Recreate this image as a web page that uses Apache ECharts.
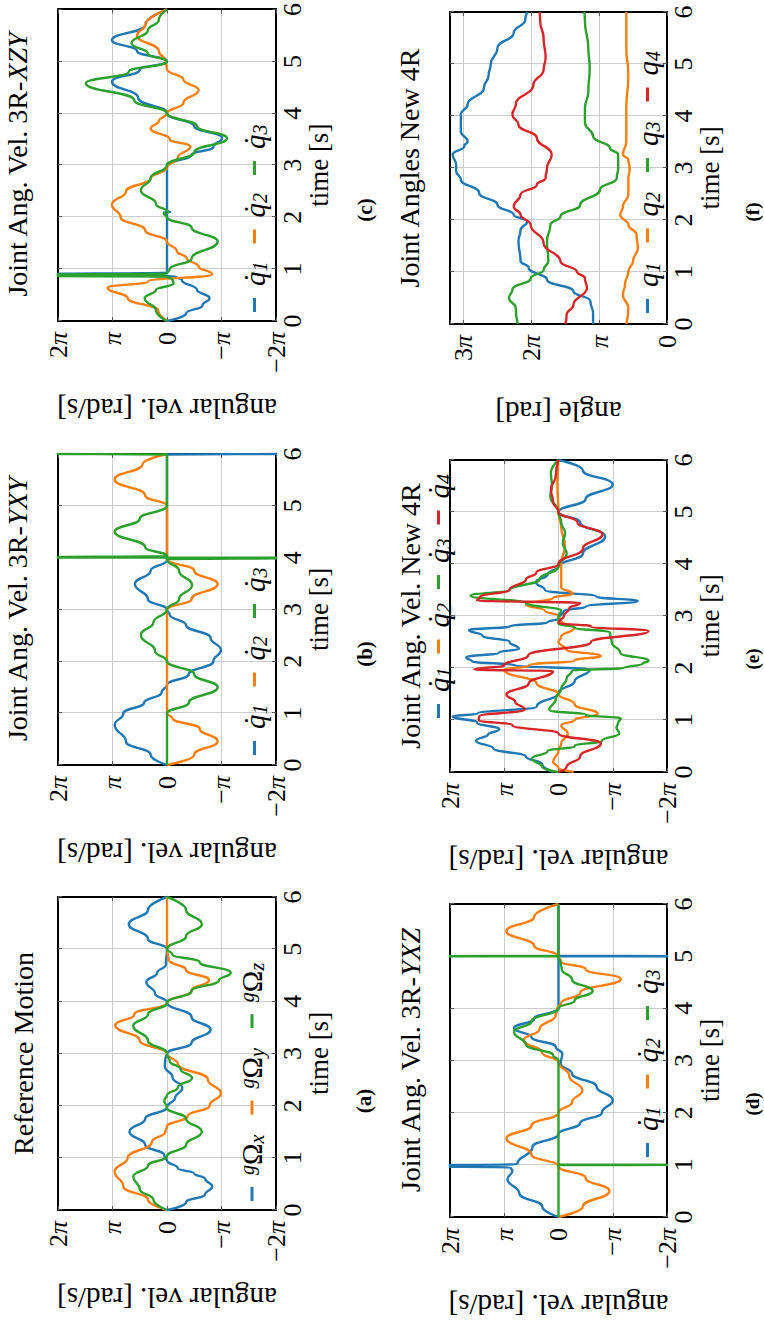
<!DOCTYPE html>
<html><head><meta charset="utf-8">
<script src="https://cdn.jsdelivr.net/npm/echarts@6/dist/echarts.min.js"></script>
<style>
html,body{margin:0;padding:0;background:#fff;overflow:hidden;width:764px;height:1322px;}
#wrap{position:absolute;left:0;top:0;width:1322px;height:764px;transform-origin:0 0;transform:translate(0,1322px) rotate(-90deg);}
#chart{width:1322px;height:764px;background:#fff;}
</style></head><body><div id="wrap"><div id="chart"></div></div>
<script>
// ---------------- data: [time s, value in units of pi] ----------------
// (a) Reference Motion
const a_Wx = [[0,0],[0.15,-0.35],[0.3,-0.7],[0.45,-0.83],[0.6,-0.7],[0.7,-0.5],[0.8,-0.2],[0.95,0],[1.05,0.05],[1.25,0.4],[1.5,0.69],[1.75,0.4],[1.97,0],[2.15,-0.15],[2.34,-0.28],[2.55,-0.1],[2.75,0.04],[2.9,0.03],[3.0,0],[3.2,-0.45],[3.46,-0.8],[3.7,-0.45],[3.98,0],[4.15,0.22],[4.37,0.38],[4.55,0.18],[4.7,0.02],[5.0,0],[5.2,0.35],[5.48,0.7],[5.75,0.35],[6,0]];
const a_Wy = [[0,0],[0.2,0.35],[0.45,0.8],[0.74,0.96],[1.0,0.72],[1.3,0.28],[1.5,0.03],[1.6,0],[1.8,-0.38],[2.0,-0.78],[2.24,-0.99],[2.5,-0.75],[2.8,-0.2],[3.0,0],[3.25,0.5],[3.54,0.95],[3.75,0.6],[3.97,0],[4.2,-0.45],[4.41,-0.77],[4.6,-0.35],[4.8,-0.03],[5.0,0],[6,0]];
const a_Wz = [[0,0],[0.2,0.25],[0.4,0.5],[0.64,0.62],[0.85,0.35],[1.03,0],[1.25,-0.35],[1.5,-0.64],[1.75,-0.35],[1.96,0],[2.1,0.05],[2.2,0],[2.35,-0.2],[2.53,-0.46],[2.7,-0.25],[2.85,-0.05],[3.0,0],[3.25,0.35],[3.53,0.62],[3.75,0.35],[3.97,0],[4.2,-0.45],[4.4,-0.95],[4.55,-1.17],[4.75,-0.6],[4.9,-0.1],[5.0,0],[5.25,-0.35],[5.48,-0.64],[5.75,-0.35],[6,0]];
// (b) 3R-YXY
const b_dq1 = [[0,0],[0.2,0.3],[0.45,0.75],[0.77,0.96],[1.0,0.8],[1.2,0.42],[1.4,0.1],[1.55,0],[1.75,-0.4],[2.0,-0.85],[2.22,-0.99],[2.45,-0.8],[2.7,-0.35],[2.9,-0.05],[3.0,0],[3.2,0.35],[3.49,0.59],[3.75,0.3],[3.95,0],[5.99,0],[6.0,-2.6]];
const b_dq2 = [[0,0],[0.2,-0.5],[0.46,-0.93],[0.7,-0.6],[0.9,-0.1],[1.0,0],[3.0,0],[3.2,-0.45],[3.49,-0.93],[3.75,-0.5],[3.97,0],[5.0,0],[5.2,0.4],[5.51,0.96],[5.8,0.45],[6,0]];
const b_dq3 = [[0,0],[1.0,0],[1.2,-0.4],[1.5,-0.93],[1.75,-0.5],[2.0,0],[2.2,0.22],[2.51,0.48],[2.75,0.25],[3.0,0],[3.2,-0.22],[3.47,-0.46],[3.75,-0.22],[3.97,0],[3.995,-2.6],[4.005,2.6],[4.03,0],[4.2,0.4],[4.5,0.96],[4.75,0.5],[5.0,0],[5.99,0],[6.0,2.6]];
// (c) 3R-XZY
const c_dq1 = [[0,0],[0.15,-0.35],[0.3,-0.65],[0.44,-0.78],[0.6,-0.55],[0.79,-0.27],[0.86,-0.15],[0.88,2.6],[0.9,2.6],[0.93,0],[2.08,0],[2.09,0.06],[2.1,-0.06],[2.11,0],[3.0,0],[3.2,-0.45],[3.35,-0.85],[3.53,-1.01],[3.75,-0.5],[4.0,0],[4.3,0.53],[4.61,1.01],[4.84,0.5],[5.0,0],[5.2,0.55],[5.41,1.01],[5.7,0.4],[6,0]];
const c_dq2 = [[0,0],[0.2,0.16],[0.44,0.72],[0.64,1.09],[0.76,0.35],[0.9,-0.83],[1.05,-0.58],[1.21,-0.36],[1.35,-0.18],[1.53,0],[1.75,0.4],[2.0,0.85],[2.24,1.01],[2.5,0.75],[2.75,0.3],[2.95,0],[3.15,-0.2],[3.36,-0.43],[3.5,-0.05],[3.71,0.3],[3.85,0.15],[4.0,0],[4.2,-0.3],[4.45,-0.58],[4.65,-0.3],[4.85,0],[5.0,0.02],[5.2,0.15],[5.5,0.55],[5.7,0.4],[6,0]];
const c_dq3 = [[0,0],[0.2,0.2],[0.44,0.41],[0.6,0.2],[0.72,-0.12],[0.8,-0.1],[0.855,0],[0.87,2.6],[0.89,2.6],[0.91,0],[1.0,-0.05],[1.2,-0.45],[1.53,-0.93],[1.8,-0.45],[2.0,0],[2.07,0.06],[2.1,-0.02],[2.25,0.2],[2.52,0.48],[2.75,0.3],[3.0,0],[3.25,-0.5],[3.52,-1.1],[3.75,-0.55],[4.0,0],[4.25,0.6],[4.58,1.49],[4.8,0.7],[5.0,0],[5.15,0.35],[5.35,0.65],[5.6,0.35],[5.8,0.15],[6,0]];
// (d) 3R-YXZ
const d_dq1 = [[0,0],[0.2,0.3],[0.45,0.72],[0.73,0.94],[0.88,0.85],[0.95,0.88],[0.97,2.6],[0.99,2.6],[1.01,0.76],[1.34,0.48],[1.59,0],[1.8,-0.4],[2.0,-0.8],[2.24,-1.0],[2.5,-0.7],[2.75,-0.25],[2.94,-0.04],[3.13,-0.07],[3.26,0.05],[3.45,0.5],[3.62,0.82],[3.8,0.45],[4.0,0],[4.995,0],[5.0,-2.6],[5.005,0],[6,0]];
const d_dq2 = [[0,0],[0.2,-0.45],[0.5,-0.94],[0.75,-0.5],[0.97,0],[1.2,0.5],[1.51,0.96],[1.75,0.5],[2.0,0],[2.2,-0.25],[2.43,-0.44],[2.7,-0.2],[2.97,0],[3.15,0.3],[3.39,0.64],[3.6,0.35],[3.87,0.05],[4.0,0.02],[4.1,-0.05],[4.3,-0.4],[4.56,-1.15],[4.75,-0.5],[4.9,-0.05],[5.0,0],[5.2,0.45],[5.48,0.96],[5.75,0.45],[6,0]];
const d_dq3 = [[0,0],[0.995,0],[1.0,-2.6],[1.005,0],[3.0,0],[3.1,0.1],[3.3,0.6],[3.55,0.82],[3.75,0.5],[4.0,0],[4.15,-0.3],[4.33,-0.63],[4.55,-0.25],[4.75,-0.06],[4.87,-0.04],[4.995,0],[5.0,2.6],[5.005,0],[6,0]];
// (e) New 4R velocities
const e_dq1 = [[0,0.1],[0.15,0.3],[0.3,0.6],[0.45,1.2],[0.6,1.52],[0.72,1.3],[0.82,1.09],[0.95,1.5],[1.07,1.95],[1.12,1.5],[1.26,0.4],[1.52,0],[1.75,-0.3],[1.97,-0.58],[2.05,0.8],[2.13,1.6],[2.2,1.7],[2.3,1.1],[2.37,0.73],[2.5,0.9],[2.62,1.4],[2.73,1.65],[2.8,0.9],[2.88,0.2],[2.95,0],[3.1,-0.1],[3.18,-0.5],[3.29,-1.46],[3.37,-0.7],[3.5,0.25],[3.65,0.42],[3.8,0.2],[3.95,0],[4.2,-0.45],[4.53,-0.86],[4.8,-0.4],[5.0,0],[5.25,-0.5],[5.53,-1.0],[5.8,-0.45],[6,0]];
const e_dq2 = [[0,-0.28],[0.08,0],[0.2,0.1],[0.4,0.0],[0.55,-0.05],[0.74,-0.17],[0.9,-0.05],[1.0,-0.3],[1.12,-0.72],[1.3,-0.3],[1.5,0.0],[1.7,0.4],[1.96,1.0],[2.05,0.55],[2.15,-0.3],[2.23,-0.78],[2.35,-0.15],[2.5,0.0],[2.6,-0.05],[2.77,-0.29],[2.9,-0.05],[3.0,0],[3.1,0.25],[3.22,0.6],[3.35,0.1],[3.43,-0.26],[3.55,-0.05],[4.0,-0.05],[4.35,-0.12],[4.7,-0.05],[5.0,0.0],[5.5,0.02],[6,0]];
const e_dq3 = [[0,0],[0.1,0.3],[0.26,0.49],[0.4,0.2],[0.5,-0.3],[0.6,-0.8],[0.74,-1.12],[0.85,-1.07],[0.95,-1.1],[1.03,-1.15],[1.1,-0.5],[1.19,0.17],[1.4,0.05],[1.6,-0.05],[1.8,-0.15],[1.95,-0.25],[2.0,-1.2],[2.08,-1.55],[2.14,-1.66],[2.29,-1.14],[2.5,-0.98],[2.68,-0.95],[2.78,-0.3],[2.85,0],[3.0,0],[3.1,-0.05],[3.25,0.6],[3.39,1.62],[3.5,0.9],[3.7,0.35],[3.95,0],[4.2,-0.15],[4.4,-0.08],[4.6,-0.12],[4.8,-0.05],[5.0,0],[5.3,0.15],[5.5,0.12],[5.75,0.14],[6,0]];
const e_dq4 = [[0,0],[0.1,-0.15],[0.3,-0.4],[0.55,-0.78],[0.74,0],[0.9,0.85],[1.0,1.47],[1.07,1.46],[1.2,0.62],[1.35,0.8],[1.49,0.96],[1.7,0.55],[1.94,0.1],[1.97,1.55],[2.05,1.0],[2.24,0.56],[2.5,-0.6],[2.71,-1.66],[2.8,-0.6],[2.87,0],[3.0,-0.1],[3.15,-0.2],[3.25,-0.4],[3.3,1.5],[3.36,1.45],[3.51,0.9],[3.7,0.6],[3.83,0.41],[4.0,0],[4.3,-0.45],[4.57,-0.81],[4.8,-0.35],[5.0,0],[5.2,0.1],[5.43,0.14],[5.7,0.05],[6,0]];
// (f) New 4R angles
const f_q1 = [[0,1.09],[0.2,1.09],[0.44,1.13],[0.63,1.38],[0.85,1.77],[1.08,2.04],[1.21,2.16],[1.59,2.19],[1.81,2.16],[1.97,2.06],[2.1,2.26],[2.29,2.5],[2.52,2.77],[2.78,3.04],[2.94,3.11],[3.06,3.11],[3.26,3.16],[3.42,2.99],[3.51,2.94],[3.7,3.04],[4.03,3.04],[4.22,2.94],[4.54,2.7],[4.79,2.63],[4.99,2.6],[5.31,2.5],[5.6,2.26],[5.85,2.09],[6,2.06]];
const f_q2 = [[0,0.6],[0.31,0.57],[0.56,0.65],[0.76,0.62],[1.01,0.57],[1.21,0.5],[1.46,0.43],[1.72,0.45],[1.91,0.57],[2.1,0.69],[2.26,0.65],[2.49,0.57],[2.78,0.57],[3.0,0.55],[3.16,0.57],[3.26,0.65],[3.51,0.6],[4.15,0.6],[4.79,0.57],[5.31,0.6],[6,0.6]];
const f_q3 = [[0,2.2],[0.31,2.23],[0.5,2.33],[0.66,2.28],[0.88,2.01],[1.04,1.82],[1.21,1.75],[1.59,1.77],[1.91,1.72],[2.07,1.57],[2.29,1.28],[2.58,0.99],[2.81,0.74],[3.0,0.72],[3.26,0.72],[3.38,0.84],[3.61,1.09],[3.87,1.21],[4.15,1.21],[4.47,1.16],[4.92,1.14],[5.31,1.16],[5.82,1.21],[6,1.22]];
const f_q4 = [[0,1.5],[0.18,1.48],[0.37,1.38],[0.69,1.18],[0.88,1.21],[1.01,1.33],[1.2,1.57],[1.56,1.82],[1.91,2.01],[2.1,2.16],[2.26,2.26],[2.49,2.16],[2.68,1.92],[2.81,1.79],[3.0,1.77],[3.26,1.7],[3.58,1.92],[3.83,2.19],[4.03,2.28],[4.22,2.23],[4.6,1.97],[4.89,1.82],[5.12,1.79],[5.5,1.82],[5.82,1.87],[6,1.88]];

const titles = ['Reference Motion','Joint Ang. Vel. 3R-{i|YXY}','Joint Ang. Vel. 3R-{i|XZY}','Joint Ang. Vel. 3R-{i|YXZ}','Joint Ang. Vel. New 4R','Joint Angles New 4R'];
const captions = ['(a)','(b)','(c)','(d)','(e)','(f)'];

// ---------------- styling / layout ----------------
const FF = "'Liberation Serif','DejaVu Serif',serif";
const BLUE='#1f77b4', ORANGE='#ff7f0e', GREEN='#2ca02c', RED='#d62728';
const panels = [
  {g:[112,58,313,218], yr:[-2,2], yname:'angular vel. [rad/s]', s:[['Wx',a_Wx,BLUE],['Wy',a_Wy,ORANGE],['Wz',a_Wz,GREEN]], lg:[121,252,20], ty:23.5, cap:[221,364,21]},
  {g:[557,58,311,218], yr:[-2,2], yname:'angular vel. [rad/s]', s:[['dq1',b_dq1,BLUE],['dq2',b_dq2,ORANGE],['dq3',b_dq3,GREEN]], lg:[567,255,18], ty:17.5, cap:[668,365,21]},
  {g:[1001,58,312,218], yr:[-2,2], yname:'angular vel. [rad/s]', s:[['dq1',c_dq1,BLUE],['dq2',c_dq2,ORANGE],['dq3',c_dq3,GREEN]], lg:[1010,255,18], ty:17.5, cap:[1112,365,21]},
  {g:[105,450,313,217], yr:[-2,2], yname:'angular vel. [rad/s]', s:[['dq1',d_dq1,BLUE],['dq2',d_dq2,ORANGE],['dq3',d_dq3,GREEN]], lg:[165,648,18], ty:410, cap:[218,752,19]},
  {g:[550,450,312,217], yr:[-2,2], yname:'angular vel. [rad/s]', s:[['dq1',e_dq1,BLUE],['dq2',e_dq2,ORANGE],['dq3',e_dq3,GREEN],['dq4',e_dq4,RED]], lg:[604,439,14], ty:410, cap:[663,752,19]},
  {g:[998,450,312,217], yr:[0,3.2], yname:'angle [rad]', s:[['q1',f_q1,BLUE],['q2',f_q2,ORANGE],['q3',f_q3,GREEN],['q4',f_q4,RED]], lg:[1009,648,20], ty:409, cap:[1110,752,19]}
];

const LEG = {
  Wx:'{sp| }{sup|g}{om|Ω}{sub|x}', Wy:'{sp| }{sup|g}{om|Ω}{sub|y}', Wz:'{sp| }{sup|g}{om|Ω}{sub|z}',
  dq1:'{sp| }{q|q\u0307}{sub|1}', dq2:'{sp| }{q|q\u0307}{sub|2}', dq3:'{sp| }{q|q\u0307}{sub|3}', dq4:'{sp| }{q|q\u0307}{sub|4}',
  q1:'{sp| }{q|q}{sub|1}', q2:'{sp| }{q|q}{sub|2}', q3:'{sp| }{q|q}{sub|3}', q4:'{sp| }{q|q}{sub|4}'
};
const legRich = {
  sp:{width:7, fontSize:10},
  q:{fontFamily:FF, fontStyle:'italic', fontSize:29, lineHeight:30, color:'#000'},
  om:{fontFamily:FF, fontSize:29, lineHeight:30, color:'#000'},
  sub:{fontFamily:FF, fontStyle:'italic', fontSize:20, lineHeight:12, verticalAlign:'bottom', color:'#000'},
  sup:{fontFamily:FF, fontStyle:'italic', fontSize:20, lineHeight:12, verticalAlign:'top', color:'#000'}
};

function piLabel(v){
  const r = Math.round(v);
  if (Math.abs(v - r) > 1e-6) return '';
  if (r === 0) return '0';
  const a = Math.abs(r);
  return (r < 0 ? '\u2212' : '') + (a === 1 ? '' : a) + '{p|π}';
}

const grid=[], xAxis=[], yAxis=[], series=[], legend=[], graphic=[];
const tickStyle = {show:true, inside:true, length:4, lineStyle:{color:'#555', width:1}};
const lineAx = {show:true, onZero:false, lineStyle:{color:'#000', width:2}};
panels.forEach((p,i)=>{
  grid.push({left:p.g[0], top:p.g[1], width:p.g[2], height:p.g[3], containLabel:false});
  xAxis.push({gridIndex:i, type:'value', position:'bottom', min:0, max:6, interval:1,
    axisLine:lineAx, axisTick:tickStyle,
    splitLine:{show:true, lineStyle:{color:'#cccccc', width:1}},
    axisLabel:{fontFamily:FF, fontSize:26, color:'#000', margin:3},
    name:'time [s]', nameLocation:'middle', nameGap:25,
    nameTextStyle:{fontFamily:FF, fontSize:27, color:'#000'}});
  xAxis.push({gridIndex:i, type:'value', position:'top', min:0, max:6, interval:1,
    axisLine:lineAx, axisTick:tickStyle, splitLine:{show:false}, axisLabel:{show:false}});
  yAxis.push({gridIndex:i, type:'value', position:'left', min:p.yr[0], max:p.yr[1], interval:1,
    axisLine:lineAx, axisTick:tickStyle,
    splitLine:{show:true, lineStyle:{color:'#cccccc', width:1}},
    axisLabel:{fontFamily:FF, fontSize:26, color:'#000', margin:11, formatter:piLabel,
      rich:{p:{fontFamily:FF, fontStyle:'italic', fontSize:26, color:'#000'}}},
    name:p.yname, nameLocation:'middle', nameRotate:90, nameGap:73,
    nameTextStyle:{fontFamily:FF, fontSize:29, color:'#000'}});
  yAxis.push({gridIndex:i, type:'value', position:'right', min:p.yr[0], max:p.yr[1], interval:1,
    axisLine:lineAx, axisTick:tickStyle, splitLine:{show:false}, axisLabel:{show:false}});
  p.s.forEach(([name,data,col])=>{
    series.push({name, type:'line', xAxisIndex:2*i, yAxisIndex:2*i, data,
      showSymbol:false, symbol:'none', smooth:0.5, smoothMonotone:'x', clip:true,
      lineStyle:{color:col, width:2.4}, itemStyle:{color:col}, emphasis:{disabled:true}});
  });
  legend.push({left:p.lg[0], top:p.lg[1]-15, orient:'horizontal', padding:0,
    itemWidth:14, itemHeight:3, itemGap:p.lg[2], icon:'rect', selectedMode:false,
    data:p.s.map(s=>s[0]),
    formatter:(n)=>LEG[n],
    textStyle:{fontFamily:FF, fontSize:29, color:'#000', rich:legRich}});
  graphic.push({type:'text', x:p.g[0]+p.g[2]/2, y:p.ty, silent:true,
    style:{text:titles[i], fontFamily:FF, fontSize:28, fill:'#000', align:'center', verticalAlign:'middle',
      rich:{i:{fontFamily:FF, fontStyle:'italic', fontSize:28, fill:'#000', color:'#000'}}}});
  graphic.push({type:'text', x:p.cap[0], y:p.cap[1], silent:true,
    style:{text:captions[i], fontFamily:FF, fontSize:p.cap[2], fontWeight:'bold', fill:'#000', align:'center', verticalAlign:'middle'}});
});

const chart = echarts.init(document.getElementById('chart'), null, {renderer:'svg', width:1322, height:764});
chart.setOption({animation:false, backgroundColor:'#fff', grid, xAxis, yAxis, series, legend, graphic});
</script></body></html>
